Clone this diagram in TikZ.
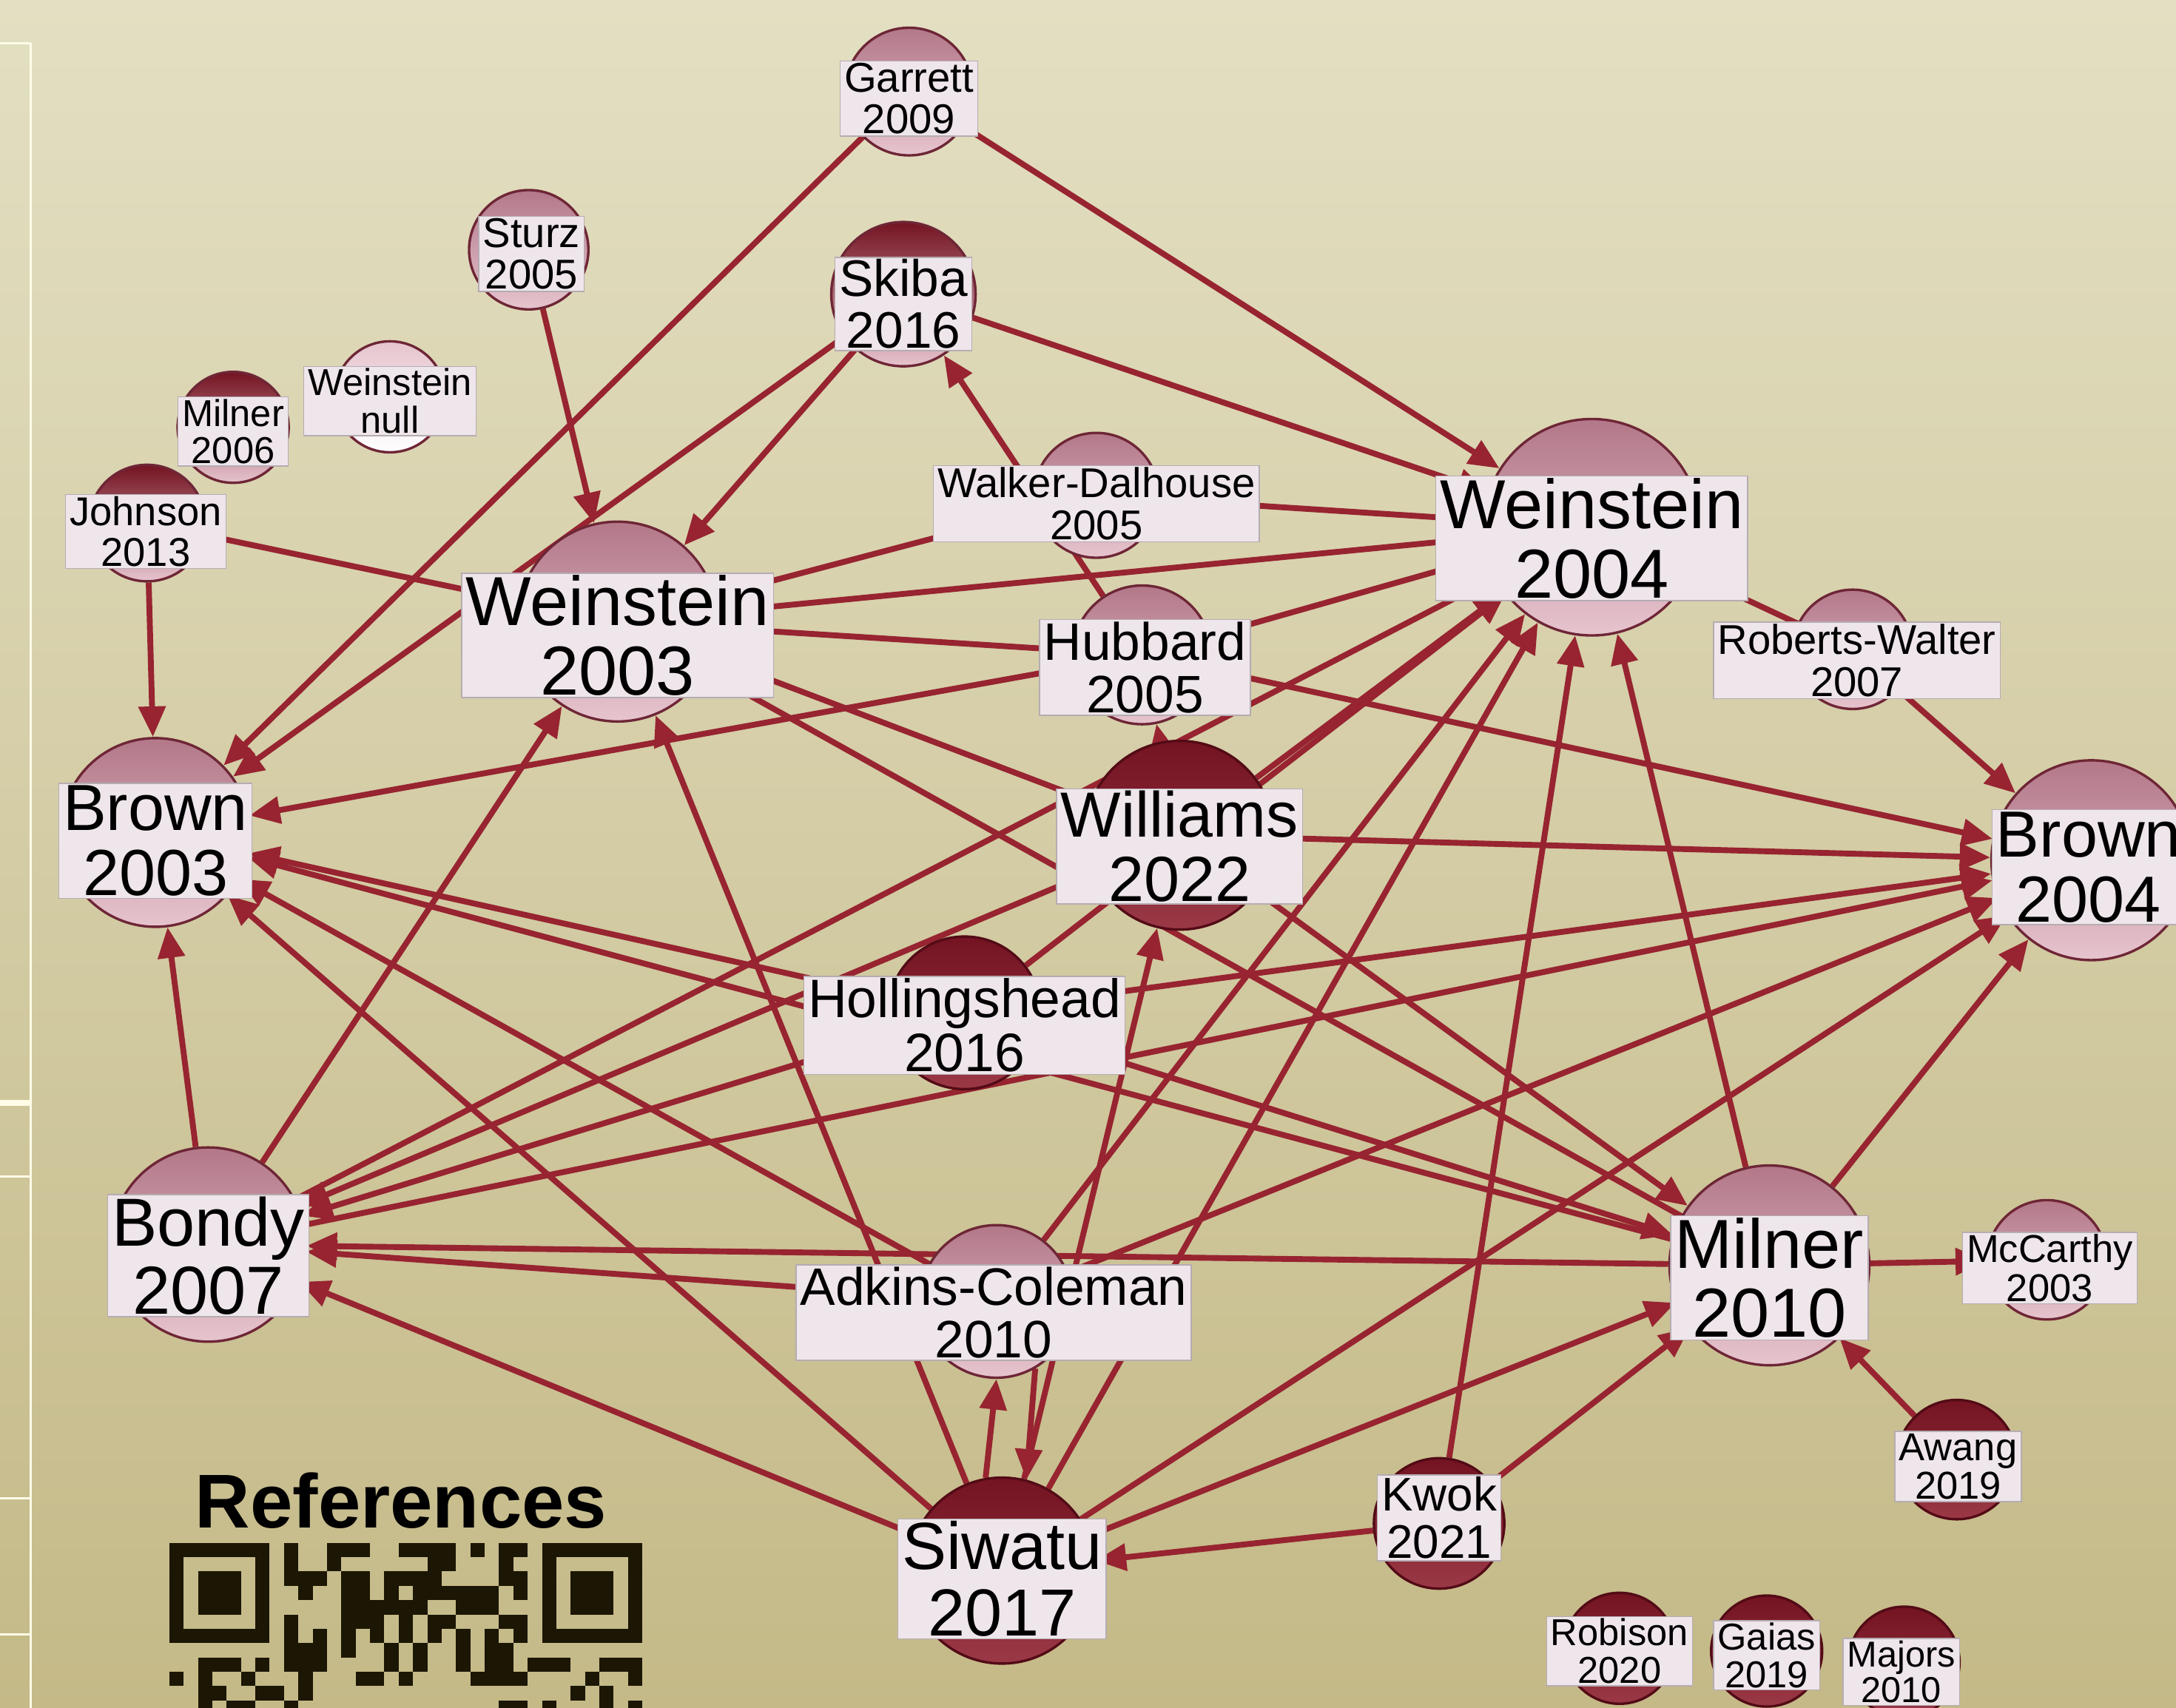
\documentclass[tikz,border=0pt]{standalone}
\usepackage{fontspec}
\setmainfont{Liberation Sans}
\usetikzlibrary{arrows.meta}
\definecolor{bgtop}{HTML}{E3DFC2}
\definecolor{bgbot}{HTML}{C4B987}
\definecolor{edgec}{HTML}{972430}
\definecolor{ltop}{HTML}{B37889}
\definecolor{lbot}{HTML}{E6C4CE}
\definecolor{ledge}{HTML}{6E2636}
\definecolor{dtop}{HTML}{741321}
\definecolor{dbot}{HTML}{9A3846}
\definecolor{dedge}{HTML}{530B16}
\definecolor{lblbg}{HTML}{EFE6EC}
\definecolor{lbledge}{HTML}{B5ACB2}
\definecolor{qrc}{HTML}{1C1604}
\definecolor{rulec}{HTML}{FFFCE8}
\pgfdeclarelayer{bg}
\pgfdeclarelayer{edges}
\pgfsetlayers{bg,edges,main}
\newcommand\lblfont[1]{\fontsize{#1}{#1}\selectfont}
\newcommand\mkpaper[9]{%
  \node[#5, minimum size=#4*2] (#1) at (#2,#3) {};
  \node[lbl, font=\lblfont{#8}] (#1l) at (#6,#7) {#9};}
\newcommand\qrrow[2]{\foreach \qa/\qb in {#2}{\fill[qrc] ({122+\qa*10.33},{1112+#1*10.33}) rectangle ({122+\qb*10.33},{1112+(#1+1)*10.33});}}
\begin{document}
\begin{tikzpicture}[x=1pt,y=-1pt,
  lightc/.style={circle, draw=ledge, line width=1.8pt, top color=ltop, bottom color=lbot, inner sep=0pt},
  midc/.style={circle, draw=ledge, line width=1.8pt, top color=dtop, bottom color=lbot, inner sep=0pt},
  darkc/.style={circle, draw=dedge, line width=1.8pt, top color=dtop, bottom color=dbot, inner sep=0pt},
  whitec/.style={circle, draw=ledge, line width=1.8pt, top color=lbot, bottom color=white, inner sep=0pt},
  lbl/.style={fill=lblbg, draw=lbledge, line width=0.8pt, inner xsep=3pt, inner ysep=1.5pt, align=center, text=black},
  cite/.style={draw=edgec, line width=4.2pt, -{Triangle[length=22pt,width=19pt]}}]
\useasboundingbox (0,0) rectangle (1568,1231);
\begin{pgfonlayer}{bg}
  \shade[top color=bgtop, bottom color=bgbot] (0,0) rectangle (1568,1231);
  \draw[rulec, line width=1.5pt] (22,31) -- (22,1231);
  \draw[rulec, line width=1.5pt] (0,31) -- (22,31);
  \draw[rulec, line width=4pt] (0,795) -- (22,795);
  \draw[rulec, line width=1.5pt] (0,848) -- (22,848);
  \draw[rulec, line width=1.5pt] (0,1080) -- (22,1080);
  \draw[rulec, line width=1.5pt] (0,1178) -- (22,1178);
\end{pgfonlayer}
% papers: name, cx, cy, r, style, lx, ly, font size, text
\mkpaper{garrett}{655}{66}{46}{lightc}{655}{71}{30}{Garrett\\2009}
\mkpaper{sturz}{381}{180}{43}{lightc}{383}{183}{30}{Sturz\\2005}
\mkpaper{skiba}{651}{212}{52}{midc}{651}{219}{37}{Skiba\\2016}
\mkpaper{milnersix}{168}{308}{40}{midc}{168}{311}{27}{Milner\\2006}
\mkpaper{wnull}{281}{286}{40}{whitec}{281}{289}{27}{Weinstein\\null}
\mkpaper{johnson}{106}{377}{42}{midc}{105}{383}{29}{Johnson\\2013}
\mkpaper{walker}{790}{357}{45}{lightc}{790}{363}{30}{Walker-Dalhouse\\2005}
\mkpaper{w03}{445}{448}{72}{lightc}{445}{458}{50}{Weinstein\\2003}
\mkpaper{w04}{1147}{380}{78}{lightc}{1147}{388}{50}{Weinstein\\2004}
\mkpaper{hubbard}{823}{472}{50}{lightc}{825}{481}{38}{Hubbard\\2005}
\mkpaper{roberts}{1335}{468}{43}{lightc}{1338}{476}{30}{Roberts-Walter\\2007}
\mkpaper{brown03}{112}{600}{68}{lightc}{112}{606}{47}{Brown\\2003}
\mkpaper{williams}{850}{602}{68}{darkc}{850}{610}{46}{Williams\\2022}
\mkpaper{brown04}{1507}{620}{72}{lightc}{1505}{625}{47}{Brown\\2004}
\mkpaper{holling}{695}{730}{55}{darkc}{695}{739}{39}{Hollingshead\\2016}
\mkpaper{bondy}{150}{897}{70}{lightc}{150}{905}{49}{Bondy\\2007}
\mkpaper{adkins}{718}{938}{55}{lightc}{716}{946}{38}{Adkins-Coleman\\2010}
\mkpaper{milnerten}{1275}{912}{72}{lightc}{1275}{921}{50}{Milner\\2010}
\mkpaper{mccarthy}{1475}{908}{43}{lightc}{1477}{914}{28}{McCarthy\\2003}
\mkpaper{awang}{1410}{1052}{43}{darkc}{1411}{1057}{28}{Awang\\2019}
\mkpaper{kwok}{1037}{1098}{47}{darkc}{1037}{1094}{34}{Kwok\\2021}
\mkpaper{siwatu}{722}{1132}{67}{darkc}{722}{1138}{48}{Siwatu\\2017}
\mkpaper{robison}{1167}{1188}{40}{darkc}{1167}{1190}{27}{Robison\\2020}
\mkpaper{gaias}{1273}{1190}{40}{darkc}{1273}{1193}{27}{Gaias\\2019}
\mkpaper{majors}{1372}{1198}{40}{darkc}{1370}{1205}{26}{Majors\\2010}
\begin{pgfonlayer}{edges}
\foreach \s/\t in {garrett/brown03, garrett/w04, sturz/w03, skiba/w03, skiba/brown03, skiba/w04,
  hubbard/skiba, walker/w04, w03/walker, w03/w04, hubbard/w03, johnson/w03, johnson/brown03,
  hubbard/brown03, hubbard/brown04, hubbard/w04, roberts/w04, roberts/brown04,
  williams/w04, bondy/w04, williams/brown04, williams/milnerten, williams/w03, milnerten/w03,
  williams/hubbard, williams/bondy, holling/w04, holling/brown03, milnerten/brown03,
  holling/milnerten, holling/bondy, holling/brown04, bondy/brown04, bondy/brown03, bondy/w03,
  adkins/brown03, siwatu/brown03, siwatu/w03, adkins/w04, adkins/bondy, milnerten/bondy,
  siwatu/bondy, siwatu/w04, siwatu/brown04, siwatu/milnerten, siwatu/williams, kwok/siwatu,
  kwok/w04, kwok/milnerten, awang/milnerten, milnerten/mccarthy, milnerten/w04,
  milnerten/brown04, adkins/brown04}
  \draw[cite] (\s) -- (\t);
\draw[cite] (siwatu.100) -- (adkins.270);
\draw[cite] (adkins.300) -- (siwatu.75);
\end{pgfonlayer}
\node[font=\bfseries\fontsize{55}{55}\selectfont, anchor=base, inner sep=0pt] (reftitle) at (289,1101) {References};
\qrrow{0}{0/7, 8/9, 11/14, 16/20, 21/22, 23/25, 26/33}
\qrrow{1}{0/1, 6/7, 8/9, 11/12, 18/20, 23/24, 26/27, 32/33}
\qrrow{2}{0/1, 2/5, 6/7, 8/11, 12/14, 15/19, 23/25, 26/27, 28/31, 32/33}
\qrrow{3}{0/1, 2/5, 6/7, 9/10, 12/14, 15/16, 17/23, 24/25, 26/27, 28/31, 32/33}
\qrrow{4}{0/1, 2/5, 6/7, 12/18, 20/23, 26/27, 28/31, 32/33}
\qrrow{5}{0/1, 6/7, 8/9, 12/15, 16/17, 18/20, 23/25, 26/27, 32/33}
\qrrow{6}{0/7, 8/9, 10/11, 12/13, 14/15, 16/17, 18/19, 20/21, 22/23, 24/25, 26/33}
\qrrow{7}{8/11, 12/13, 15/16, 17/18, 20/21, 22/24}
\qrrow{8}{2/5, 6/7, 8/11, 15/16, 17/18, 20/21, 22/24, 25/28, 30/33}
\qrrow{9}{0/1, 2/3, 5/6, 9/10, 13/15, 16/17, 21/25, 29/30, 32/33}
\qrrow{10}{2/4, 6/8, 9/10, 28/29, 30/31}
\qrrow{11}{2/3, 4/6, 8/9, 23/25, 26/27, 30/31, 32/33}
\end{tikzpicture}
\end{document}
